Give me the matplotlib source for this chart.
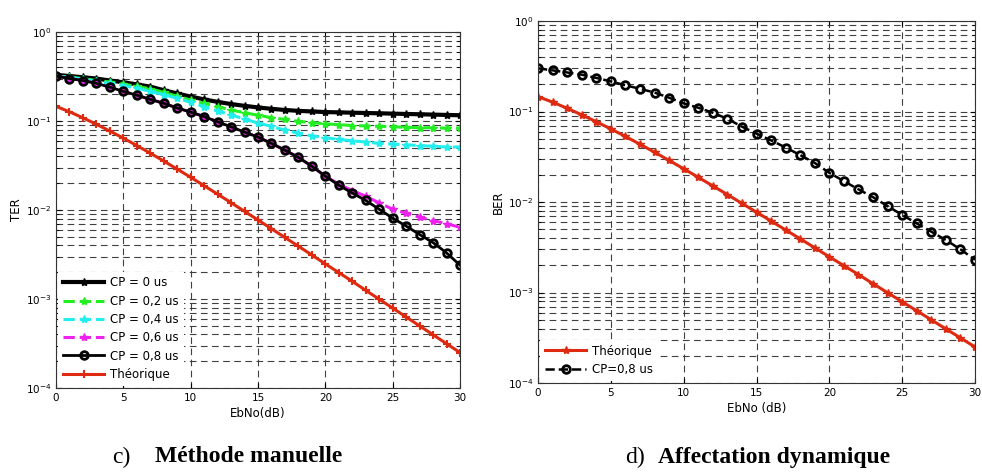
import matplotlib
matplotlib.use("Agg")
import matplotlib.pyplot as plt
from matplotlib.ticker import LogLocator, NullFormatter

ebno = list(range(31))

# left panel: TER vs EbNo, methode manuelle
ter_cp0 = [0.33, 0.32, 0.31, 0.30, 0.285, 0.272, 0.258, 0.243, 0.222, 0.204,
           0.188, 0.175, 0.164, 0.155, 0.148, 0.142, 0.137, 0.133, 0.130, 0.128,
           0.126, 0.125, 0.124, 0.123, 0.122, 0.121, 0.120, 0.119, 0.118, 0.117, 0.116]
ter_cp02 = [0.32, 0.31, 0.30, 0.285, 0.275, 0.26, 0.245, 0.23, 0.21, 0.19,
            0.172, 0.158, 0.145, 0.133, 0.124, 0.116, 0.109, 0.104, 0.099, 0.096,
            0.093, 0.091, 0.089, 0.088, 0.087, 0.086, 0.085, 0.084, 0.084, 0.083, 0.083]
ter_cp04 = [0.32, 0.31, 0.295, 0.28, 0.265, 0.25, 0.235, 0.215, 0.198, 0.18,
            0.162, 0.145, 0.13, 0.117, 0.105, 0.095, 0.087, 0.079, 0.073, 0.068,
            0.065, 0.062, 0.060, 0.058, 0.056, 0.055, 0.054, 0.053, 0.052, 0.051, 0.051]
ter_cp06 = [0.32, 0.30, 0.285, 0.265, 0.24, 0.215, 0.195, 0.175, 0.158, 0.14,
            0.126, 0.112, 0.098, 0.086, 0.075, 0.066, 0.056, 0.047, 0.039, 0.031,
            0.024, 0.0195, 0.0165, 0.0143, 0.012, 0.0102, 0.0092, 0.0083, 0.0076, 0.0070, 0.0064]
ter_cp08 = [0.32, 0.30, 0.285, 0.265, 0.24, 0.215, 0.195, 0.175, 0.158, 0.14,
            0.126, 0.112, 0.098, 0.086, 0.075, 0.066, 0.056, 0.047, 0.039, 0.031,
            0.024, 0.019, 0.0155, 0.0128, 0.0102, 0.0081, 0.0066, 0.0053, 0.0043, 0.0033, 0.0024]
theorique = [0.146, 0.127, 0.1085, 0.0919, 0.0771, 0.0642, 0.053, 0.0435, 0.0355, 0.0288,
             0.0233, 0.01875, 0.01507, 0.01208, 0.00966, 0.00772, 0.00616, 0.00491, 0.00392, 0.00312,
             0.00248, 0.00198, 0.00158, 0.00125, 0.000995, 0.00079, 0.000628, 0.000499, 0.000396,
             0.000315, 0.00025]

# right panel: BER vs EbNo, affectation dynamique
ber_cp08 = [0.30, 0.285, 0.27, 0.255, 0.235, 0.215, 0.195, 0.178, 0.162, 0.142,
            0.123, 0.11, 0.097, 0.083, 0.068, 0.057, 0.048, 0.040, 0.033, 0.027,
            0.021, 0.017, 0.0138, 0.0113, 0.009, 0.0072, 0.0058, 0.0047, 0.0038, 0.003, 0.0023]

GRID = dict(color="0.25", linestyle=(0, (6, 4)), linewidth=0.8)


def style_axes(ax, ylabel, xlabel):
    ax.set_yscale("log")
    ax.set_xlim(0, 30)
    ax.set_ylim(1e-4, 1)
    ax.set_xticks(range(0, 31, 5))
    ax.yaxis.set_major_locator(LogLocator(base=10, numticks=10))
    ax.yaxis.set_minor_locator(LogLocator(base=10, subs=range(2, 10), numticks=10))
    ax.yaxis.set_minor_formatter(NullFormatter())
    ax.grid(True, which="major", axis="both", **GRID)
    ax.grid(True, which="minor", axis="y", **GRID)
    ax.tick_params(which="both", direction="in", top=True, right=True, labelsize=7.5)
    ax.set_xlabel(xlabel, fontsize=8.5, labelpad=3)
    ax.set_ylabel(ylabel, fontsize=8.5, labelpad=2)
    for s in ax.spines.values():
        s.set_linewidth(0.8)
        s.set_color("0.2")


fig = plt.figure(figsize=(9.82, 4.72), dpi=100)

ax1 = fig.add_axes([56 / 982, 1 - 388 / 472, 404 / 982, 356 / 472])
ax1.plot(ebno, ter_cp0, "-", color="black", lw=3, marker="*", ms=6, label="CP = 0 us")
ax1.plot(ebno, ter_cp02, "--", color="#22ee22", lw=2.2, marker="*", ms=6, label="CP = 0,2 us")
ax1.plot(ebno, ter_cp04, "--", color="#22eeee", lw=2.2, marker="*", ms=6, label="CP = 0,4 us")
ax1.plot(ebno, ter_cp06, "--", color="#ee22ee", lw=2.2, marker="*", ms=6, label="CP = 0,6 us")
ax1.plot(ebno, ter_cp08, "-", color="black", lw=2, marker="o", ms=5.5, mfc="none", mew=2,
         label="CP = 0,8 us")
ax1.plot(ebno, theorique, "-", color="#dd2a10", lw=2.2, marker="+", ms=6, mew=1.5, label="Théorique")
style_axes(ax1, "TER", "EbNo(dB)")
leg = ax1.legend(loc="lower left", fontsize=8.5, handlelength=3.5, handletextpad=0.5,
                 labelspacing=0.45, borderaxespad=0.2, fancybox=False, framealpha=1)
leg.get_frame().set_edgecolor("none")

ax2 = fig.add_axes([538 / 982, 1 - 383 / 472, 437 / 982, 362 / 472])
ax2.plot(ebno, theorique, "-", color="#dd2a10", lw=2.2, marker="*", ms=6, label="Théorique")
ax2.plot(ebno, ber_cp08, "--", color="black", lw=1.8, marker="o", ms=5.5, mfc="none", mew=2,
         label="CP=0,8 us")
style_axes(ax2, "BER", "EbNo (dB)")
leg = ax2.legend(loc="lower left", fontsize=8.5, handlelength=3.5, handletextpad=0.5,
                 labelspacing=0.45, borderaxespad=0.2, fancybox=False, framealpha=1)
leg.get_frame().set_edgecolor("none")

cap = dict(family="Liberation Serif", fontsize=17, va="center")
fig.text(112 / 982, 1 - 457 / 472, "c)", **cap)
fig.text(155 / 982, 1 - 457 / 472, "Méthode manuelle", fontweight="bold", **cap)
fig.text(625 / 982, 1 - 457 / 472, "d)", **cap)
fig.text(658 / 982, 1 - 457 / 472, "Affectation dynamique", fontweight="bold", **cap)

fig.savefig("out.png", dpi=100)
